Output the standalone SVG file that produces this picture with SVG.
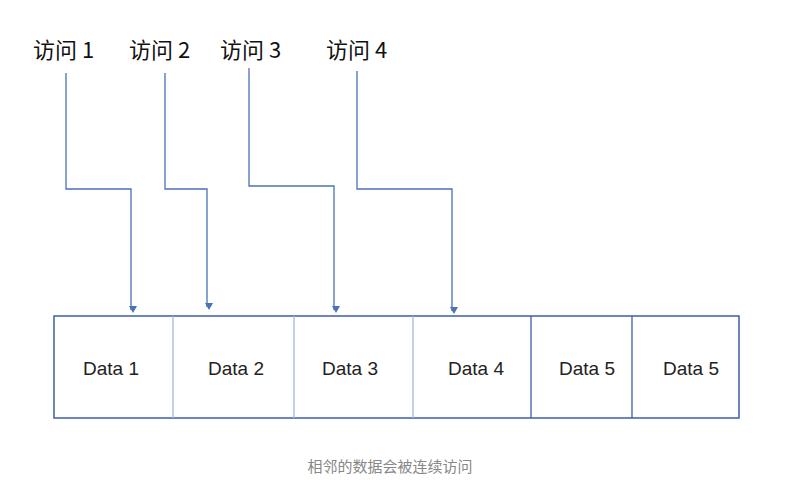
<svg xmlns="http://www.w3.org/2000/svg" width="800" height="482" viewBox="0 0 800 482">
<style>
.t{font-family:"Noto Sans CJK SC","Liberation Sans",sans-serif;font-size:22px;fill:#111}
.d{font-family:"Liberation Sans",sans-serif;font-size:19px;fill:#222;text-anchor:middle}
.c{stroke:#4a72b8;stroke-width:1.3;fill:none;marker-end:url(#a)}
.cap{font-family:"Noto Sans CJK SC","Liberation Sans",sans-serif;font-size:15px;fill:#888;text-anchor:middle}
</style>
<defs><marker id="a" markerWidth="8" markerHeight="8" refX="4" refY="6" orient="auto-start-reverse" markerUnits="userSpaceOnUse" viewBox="0 0 8 8"><path d="M0,0 L8,0 L4,7Z" transform="rotate(-90 4 4)" fill="#4a72b8"/></marker></defs>
<rect width="800" height="482" fill="#fff"/>
<g id="labels">
<text class="t" x="33" y="58">访问 1</text>
<text class="t" x="129" y="58">访问 2</text>
<text class="t" x="220" y="58">访问 3</text>
<text class="t" x="326" y="58">访问 4</text>
</g>
<g id="connectors">
<path class="c" d="M66,73 V189 H131 V310"/>
<path class="c" d="M165,73 V189 H207 V307"/>
<path class="c" d="M249,68 V186 H334 V310"/>
<path class="c" d="M357,71 V189 H452 V311"/>
</g>
<g id="row">
<rect x="54" y="316" width="685" height="102" fill="none" stroke="#3d5fa8" stroke-width="1.5"/>
<g stroke="#9fb7df" stroke-width="1.3"><line x1="173" y1="316" x2="173" y2="418"/><line x1="294" y1="316" x2="294" y2="418"/><line x1="413" y1="316" x2="413" y2="418"/></g>
<g stroke="#3d5fa8" stroke-width="1.3"><line x1="531" y1="316" x2="531" y2="418"/><line x1="632" y1="316" x2="632" y2="418"/></g>
</g>
<g id="n1"><text class="d" x="111" y="375">Data 1</text></g>
<g id="n2"><text class="d" x="236" y="375">Data 2</text></g>
<g id="n3"><text class="d" x="350" y="375">Data 3</text></g>
<g id="n4"><text class="d" x="476" y="375">Data 4</text></g>
<g id="n5"><text class="d" x="587" y="375">Data 5</text></g>
<g id="n6"><text class="d" x="691" y="375">Data 5</text></g>
<text class="cap" x="390" y="472">相邻的数据会被连续访问</text>
</svg>
